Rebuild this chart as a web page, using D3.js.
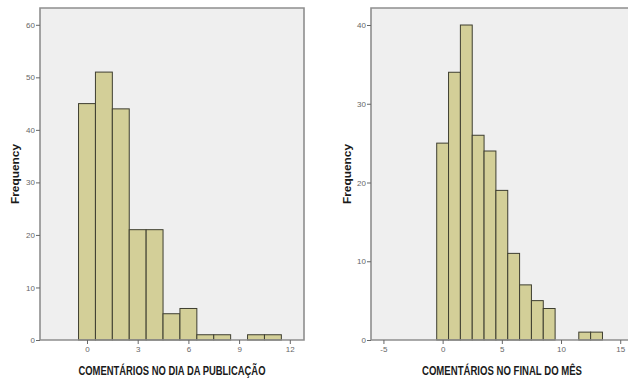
<!DOCTYPE html>
<html>
<head>
<meta charset="utf-8">
<script src="https://cdn.jsdelivr.net/npm/d3@7"></script>
<style>
  html, body { margin: 0; padding: 0; background: #ffffff; }
  svg { display: block; }
  .tick text { font-family: "Liberation Sans Narrow", "Arial Narrow", "Liberation Sans", sans-serif; font-size: 8px; fill: #666; }
</style>
</head>
<body>
<svg id="chart" width="628" height="378"></svg>
<script>
// Comment counts (bins of width 1, centred on integers) and their frequencies
const diaBins = [0, 1, 2, 3, 4, 5, 6, 7, 8, 9, 10, 11];
const diaFreq = [45, 51, 44, 21, 21, 5, 6, 1, 1, 0, 1, 1];
const mesBins = [0, 1, 2, 3, 4, 5, 6, 7, 8, 9, 10, 11, 12, 13];
const mesFreq = [25, 34, 40, 26, 24, 19, 11, 7, 5, 4, 0, 0, 1, 1];

const diaXTicks = [0, 3, 6, 9, 12];
const diaYTicks = [0, 10, 20, 30, 40, 50, 60];
const mesXTicks = [-5, 0, 5, 10, 15];
const mesYTicks = [0, 10, 20, 30, 40];

const diaTitle = "COMENTÁRIOS NO DIA DA PUBLICAÇÃO";
const mesTitle = "COMENTÁRIOS NO FINAL DO MÊS";
const yTitle = "Frequency";

const svg = d3.select("#chart");
const plainInt = d => String(d);

function histogram(opts) {
  const { bins, freq, xDomain, yDomain, left, right, top, bottom,
          xTicks, yTicks, title, titleX, titleLen, yTitleX, showRight } = opts;
  const x = d3.scaleLinear().domain(xDomain).range([left, right]);
  const y = d3.scaleLinear().domain(yDomain).range([bottom, top]);
  const g = svg.append("g");

  // plot area
  g.append("rect")
    .attr("x", left).attr("y", top)
    .attr("width", right - left).attr("height", bottom - top)
    .attr("fill", "#efefef");

  // bars
  g.selectAll("rect.bar")
    .data(bins.map((b, i) => ({ b, f: freq[i] })).filter(d => d.f > 0))
    .join("rect")
    .attr("class", "bar")
    .attr("x", d => x(d.b - 0.5))
    .attr("width", d => x(d.b + 0.5) - x(d.b - 0.5))
    .attr("y", d => y(d.f))
    .attr("height", d => y(0) - y(d.f))
    .attr("fill", "#d3cf98")
    .attr("stroke", "#3e3e30")
    .attr("stroke-width", 1);

  // frame
  const frame = g.append("path")
    .attr("fill", "none")
    .attr("stroke", "#8e8e8e")
    .attr("stroke-width", 1.6);
  if (showRight) {
    frame.attr("d", `M${left},${bottom}V${top}H${right}V${bottom}Z`);
  } else {
    frame.attr("d", `M${right + 20},${bottom}H${left}V${top}H${right + 20}`);
  }

  // axes
  const xAxis = d3.axisBottom(x).tickValues(xTicks).tickSize(4).tickPadding(2).tickFormat(plainInt);
  const yAxis = d3.axisLeft(y).tickValues(yTicks).tickSize(4).tickPadding(1).tickFormat(plainInt);
  const gx = g.append("g").attr("transform", `translate(0,${bottom})`).call(xAxis);
  const gy = g.append("g").attr("transform", `translate(${left},0)`).call(yAxis);
  [gx, gy].forEach(a => {
    a.select(".domain").remove();
    a.selectAll(".tick line").attr("stroke", "#666").attr("stroke-width", 1);
  });

  // titles
  g.append("text")
    .attr("x", titleX).attr("y", 375)
    .attr("text-anchor", "middle")
    .attr("font-family", "'Liberation Sans Narrow', 'Arial Narrow', 'Liberation Sans', sans-serif")
    .attr("font-weight", "bold")
    .attr("font-size", 12)
    .attr("fill", "#1a1a1a")
    .attr("textLength", titleLen)
    .attr("lengthAdjust", "spacingAndGlyphs")
    .text(title);

  g.append("text")
    .attr("transform", `translate(${yTitleX},174) rotate(-90)`)
    .attr("text-anchor", "middle")
    .attr("font-family", "'Liberation Sans', Arial, sans-serif")
    .attr("font-weight", "bold")
    .attr("font-size", 10)
    .attr("fill", "#1a1a1a")
    .attr("textLength", 60)
    .attr("lengthAdjust", "spacingAndGlyphs")
    .text(yTitle);
}

histogram({
  bins: diaBins, freq: diaFreq,
  xDomain: [-2.78, 12.84], yDomain: [0, 63.2],
  left: 40, right: 304, top: 8, bottom: 340,
  xTicks: diaXTicks, yTicks: diaYTicks,
  title: diaTitle, titleX: 172, titleLen: 187, yTitleX: 19, showRight: true
});

histogram({
  bins: mesBins, freq: mesFreq,
  xDomain: [-6.05, 16.67], yDomain: [0, 42.16],
  left: 371, right: 640, top: 8, bottom: 340,
  xTicks: mesXTicks, yTicks: mesYTicks,
  title: mesTitle, titleX: 502, titleLen: 160, yTitleX: 351, showRight: false
});
</script>
</body>
</html>
